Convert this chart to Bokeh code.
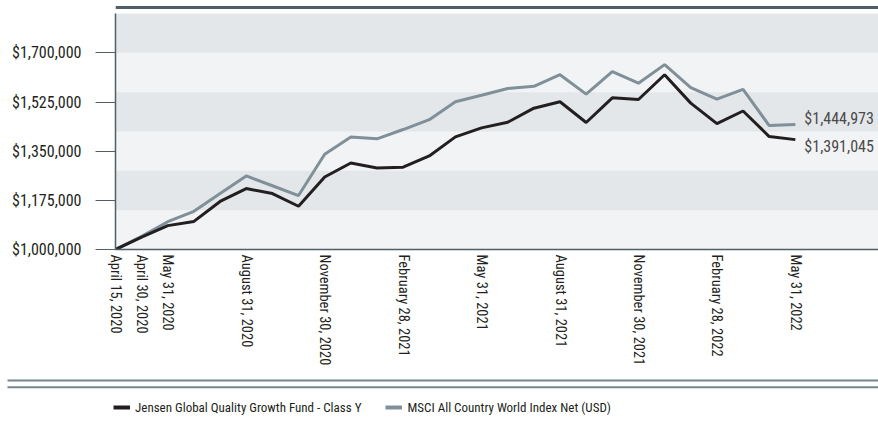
from bokeh.plotting import figure
from bokeh.models import (ColumnDataSource, FixedTicker, NumeralTickFormatter,
                          Range1d, Legend, LegendItem)
from bokeh.layouts import column
from bokeh.core.properties import value
from bokeh.embed import file_html
from bokeh.resources import INLINE

# ---------------- data ----------------
dates = ["April 15, 2020", "April 30, 2020", "May 31, 2020", "June 30, 2020",
         "July 31, 2020", "August 31, 2020", "September 30, 2020", "October 31, 2020",
         "November 30, 2020", "December 31, 2020", "January 31, 2021", "February 28, 2021",
         "March 31, 2021", "April 30, 2021", "May 31, 2021", "June 30, 2021",
         "July 31, 2021", "August 31, 2021", "September 30, 2021", "October 31, 2021",
         "November 30, 2021", "December 31, 2021", "January 31, 2022", "February 28, 2022",
         "March 31, 2022", "April 30, 2022", "May 31, 2022"]

fund = [1000000, 1044000, 1085000, 1100000, 1171000, 1217000, 1199000, 1154000,
        1258000, 1308000, 1290000, 1293000, 1333000, 1401000, 1433000, 1453000,
        1503000, 1526000, 1452000, 1540000, 1534000, 1622000, 1521000, 1448000,
        1493000, 1402000, 1391045]

msci = [1000000, 1047000, 1099000, 1136000, 1199000, 1262000, 1227000, 1192000,
        1339000, 1400000, 1394000, 1427000, 1462000, 1526000, 1549000, 1573000,
        1581000, 1622000, 1553000, 1633000, 1592000, 1658000, 1576000, 1535000,
        1570000, 1441000, 1444973]

fund_name = "Jensen Global Quality Growth Fund - Class Y"
msci_name = "MSCI All Country World Index Net (USD)"

x_tick_labels = ["April 15, 2020", "April 30, 2020", "May 31, 2020", "August 31, 2020",
                 "November 30, 2020", "February 28, 2021", "May 31, 2021",
                 "August 31, 2021", "November 30, 2021", "February 28, 2022",
                 "May 31, 2022"]
y_ticks = [1000000, 1175000, 1350000, 1525000, 1700000]
band_edges = [1000000, 1140000, 1280000, 1420000, 1560000, 1700000, 1840000]

# ---------------- styles ----------------
FONT_S = "'Liberation Sans Narrow', 'Roboto Condensed', Roboto"
FONT = value(FONT_S)
BLACK = "#231f20"
GRAY = "#7f9099"
SLATE = "#4f5e69"
RULE = "#74858f"
W = 878

idx = list(range(len(dates)))
src = ColumnDataSource(dict(x=idx, fund=fund, msci=msci))

# ---------------- top rule ----------------
p_top = figure(width=W, height=13, x_range=(0, 1), y_range=(0, 13),
               x_axis_type=None, y_axis_type=None,
               toolbar_location=None, output_backend="svg", min_border=0)
p_top.grid.visible = False
p_top.outline_line_color = None
p_top.hspan(y=[6], line_color=SLATE, line_width=3)

# ---------------- chart ----------------
p = figure(width=W, height=355, toolbar_location=None, output_backend="svg",
           x_range=Range1d(0, 29.18), y_range=Range1d(band_edges[0], band_edges[-1]),
           min_border_left=115, min_border_right=0, min_border_top=0,
           min_border_bottom=116)
p.outline_line_color = None
p.background_fill_color = "#f2f3f5"
p.border_fill_color = "white"

p.xgrid.visible = False
p.ygrid.ticker = FixedTicker(ticks=band_edges)
p.ygrid.grid_line_color = None
p.ygrid.band_fill_color = "#e4e7ea"
p.ygrid.band_fill_alpha = 1.0

p.line("x", "msci", source=src, line_color=GRAY, line_width=3)
p.line("x", "fund", source=src, line_color=BLACK, line_width=3)

last = len(dates) - 1
end_src = ColumnDataSource(dict(
    x=[last, last], y=[msci[-1], fund[-1]],
    t=["${:,}".format(msci[-1]), "${:,}".format(fund[-1])],
    yo=[-6, 7]))
p.text(x="x", y="y", text="t", source=end_src, x_offset=9, y_offset="yo",
       text_baseline="middle", text_align="left", text_font=FONT,
       text_font_size="16px", text_color="#4a4a4a")

# y axis
p.yaxis.ticker = FixedTicker(ticks=y_ticks)
p.yaxis.formatter = NumeralTickFormatter(format="$0,0")
p.yaxis.major_tick_out = 20
p.yaxis.major_tick_in = 0
p.yaxis.minor_tick_line_color = None
p.yaxis.major_tick_line_color = SLATE
p.yaxis.axis_line_color = SLATE
p.yaxis.axis_line_width = 1.5
p.yaxis.major_label_standoff = 14
p.yaxis.major_label_text_font = FONT_S
p.yaxis.major_label_text_font_size = "16px"
p.yaxis.major_label_text_color = BLACK

# x axis
x_tick_pos = [dates.index(d) for d in x_tick_labels]
p.xaxis.ticker = FixedTicker(ticks=x_tick_pos)
p.xaxis.major_label_overrides = {i: d for i, d in zip(x_tick_pos, x_tick_labels)}
p.xaxis.major_label_orientation = "vertical"
p.xaxis.major_tick_line_color = None
p.xaxis.minor_tick_line_color = None
p.xaxis.major_tick_out = 0
p.xaxis.axis_line_color = SLATE
p.xaxis.axis_line_width = 1.5
p.xaxis.major_label_standoff = 5
p.xaxis.major_label_text_font = FONT_S
p.xaxis.major_label_text_font_size = "14.5px"
p.xaxis.major_label_text_color = BLACK

# ---------------- bottom rule + legend ----------------
p_bot = figure(width=W, height=53, x_range=(0, W), y_range=(0, 53),
               x_axis_type=None, y_axis_type=None,
               toolbar_location=None, output_backend="svg", min_border=0)
p_bot.grid.visible = False
p_bot.outline_line_color = None
p_bot.segment(x0=[7, 7], x1=[W, W], y0=[41, 34.3], y1=[41, 34.3],
              line_color=RULE, line_width=2)
# legend proxies: same series, outside this strip's view
r1 = p_bot.line("x", "fund", source=src, line_color=BLACK, line_width=4)
r2 = p_bot.line("x", "msci", source=src, line_color=GRAY, line_width=4)
legend = Legend(items=[LegendItem(label=fund_name, renderers=[r1]),
                       LegendItem(label=msci_name, renderers=[r2])],
                orientation="horizontal", location=(113, 6), spacing=24,
                padding=0, margin=0, glyph_width=17, glyph_height=16,
                label_standoff=5, border_line_color=None, background_fill_alpha=0,
                label_text_font=FONT_S, label_text_font_size="13px",
                label_text_color=BLACK, label_height=16)
p_bot.add_layout(legend, "center")

layout = column(p_top, p, column(p_bot), spacing=0)
open("out.html", "w").write(file_html(layout, INLINE))
